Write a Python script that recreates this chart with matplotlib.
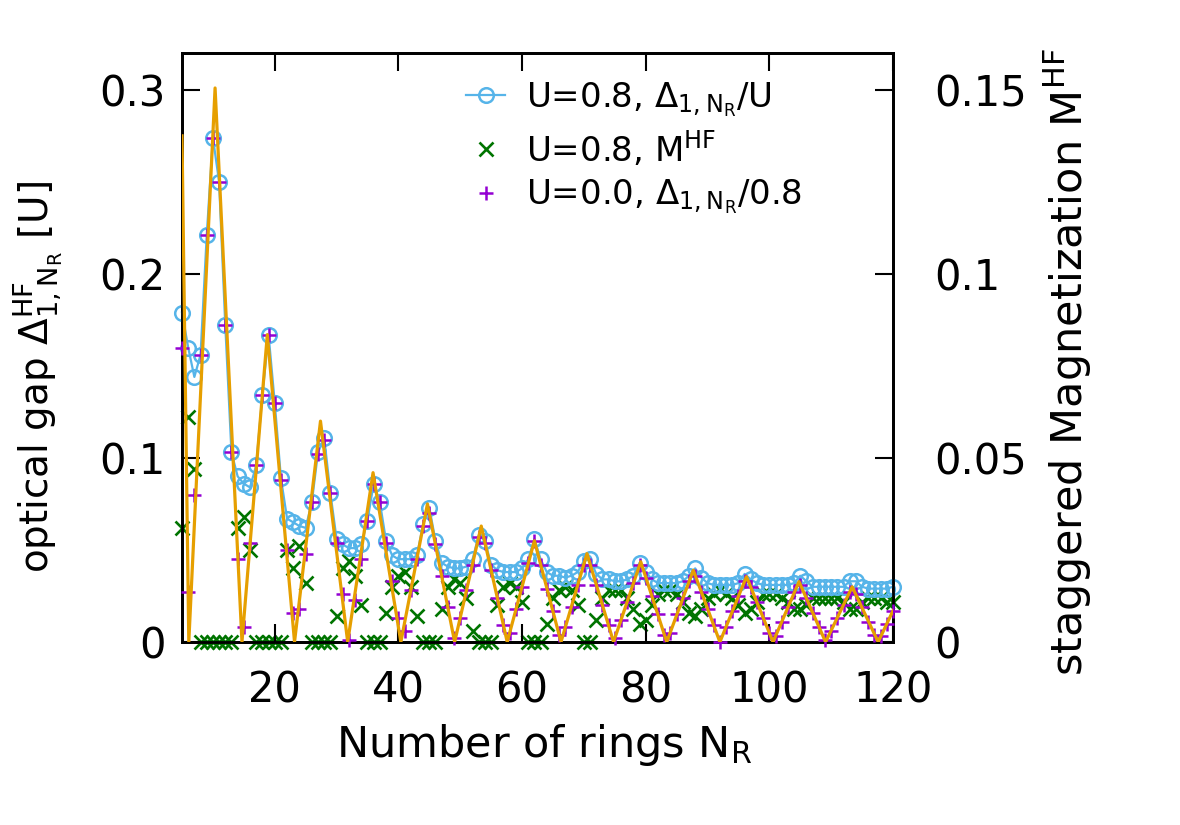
import numpy as np
import matplotlib.pyplot as plt
from matplotlib.lines import Line2D

plt.rcParams['font.family'] = ['DejaVu Sans']
plt.rcParams['mathtext.fontset'] = 'dejavusans'
plt.rcParams['mathtext.default'] = 'regular'

# Number of rings N_R = 5 ... 120
n_rings = np.arange(5, 121)

# U=0.8, optical gap Delta_{1,N_R}/U (left axis)
gap_u08 = [0.179, 0.160, 0.144, 0.156, 0.221, 0.274, 0.250, 0.172, 0.103, 0.090,
           0.086, 0.084, 0.096, 0.134, 0.167, 0.130, 0.089, 0.067, 0.065, 0.063,
           0.062, 0.076, 0.103, 0.111, 0.081, 0.056, 0.053, 0.051, 0.051, 0.053,
           0.066, 0.086, 0.076, 0.055, 0.047, 0.045, 0.045, 0.045, 0.047, 0.064,
           0.073, 0.055, 0.043, 0.041, 0.040, 0.040, 0.041, 0.045, 0.058, 0.055,
           0.042, 0.039, 0.038, 0.038, 0.038, 0.040, 0.045, 0.056, 0.045, 0.038,
           0.036, 0.036, 0.035, 0.036, 0.038, 0.044, 0.045, 0.037, 0.034, 0.034,
           0.033, 0.033, 0.034, 0.036, 0.043, 0.038, 0.034, 0.032, 0.032, 0.032,
           0.032, 0.033, 0.036, 0.040, 0.035, 0.032, 0.031, 0.031, 0.031, 0.031,
           0.032, 0.037, 0.034, 0.032, 0.031, 0.031, 0.031, 0.031, 0.031, 0.032,
           0.036, 0.033, 0.030, 0.030, 0.030, 0.030, 0.030, 0.030, 0.033, 0.033,
           0.030, 0.029, 0.029, 0.029, 0.029, 0.030]

# U=0.8, staggered magnetization M^HF (right axis)
mag_u08 = [0.031, 0.061, 0.047, 0, 0, 0, 0, 0, 0, 0.031,
           0.034, 0.025, 0, 0, 0, 0, 0, 0.025, 0.020, 0.026,
           0.016, 0, 0, 0, 0, 0.007, 0.020, 0.022, 0.018, 0.010,
           0, 0, 0, 0.008, 0.015, 0.018, 0.019, 0.015, 0.007, 0,
           0, 0, 0.009, 0.015, 0.017, 0.016, 0.012, 0.003, 0, 0,
           0, 0.010, 0.015, 0.016, 0.015, 0.011, 0, 0, 0, 0.005,
           0.012, 0.014, 0.015, 0.014, 0.010, 0, 0, 0.006, 0.012, 0.014,
           0.014, 0.014, 0.012, 0.009, 0.005, 0.006, 0.010, 0.013, 0.014, 0.014,
           0.013, 0.011, 0.008, 0.007, 0.009, 0.012, 0.013, 0.014, 0.013, 0.012,
           0.010, 0.008, 0.009, 0.011, 0.013, 0.013, 0.013, 0.012, 0.011, 0.009,
           0.009, 0.010, 0.012, 0.012, 0.012, 0.012, 0.012, 0.011, 0.009, 0.009,
           0.011, 0.012, 0.012, 0.012, 0.011, 0.011]

# U=0.0, Delta_{1,N_R}/0.8 (left axis)
gap_u00 = [0.160, 0.027, 0.080, 0.156, 0.221, 0.274, 0.250, 0.172, 0.103, 0.045,
           0.008, 0.054, 0.096, 0.134, 0.167, 0.130, 0.088, 0.050, 0.016, 0.018,
           0.048, 0.076, 0.102, 0.110, 0.081, 0.054, 0.026, 0.001, 0.023, 0.045,
           0.066, 0.086, 0.076, 0.054, 0.033, 0.013, 0.006, 0.028, 0.045, 0.063,
           0.070, 0.053, 0.036, 0.019, 0.002, 0.013, 0.028, 0.042, 0.057, 0.054,
           0.039, 0.024, 0.009, 0.005, 0.018, 0.030, 0.043, 0.055, 0.042, 0.029,
           0.017, 0.004, 0.008, 0.019, 0.031, 0.042, 0.042, 0.031, 0.020, 0.009,
           0.002, 0.012, 0.022, 0.032, 0.042, 0.035, 0.025, 0.015, 0.004, 0.005,
           0.015, 0.024, 0.033, 0.036, 0.027, 0.018, 0.009, 0.000, 0.008, 0.017,
           0.025, 0.033, 0.030, 0.022, 0.013, 0.005, 0.003, 0.011, 0.019, 0.027,
           0.031, 0.024, 0.016, 0.008, 0.001, 0.006, 0.013, 0.020, 0.027, 0.026,
           0.019, 0.011, 0.004, 0.003, 0.010, 0.017]

# orange guide line (zigzag through the U=0 gap), vertices
guide_n = [5, 6.1, 10.35, 14.7, 18.8, 23.2, 27.4, 31.8, 35.9, 40.4, 44.7, 49.1,
           53.4, 57.6, 62.0, 66.3, 70.5, 74.8, 79.2, 83.4, 87.7, 92.0, 96.3,
           100.6, 104.8, 109.1, 113.4, 117.6, 120]
guide_gap = [0.275, 0, 0.301, 0, 0.167, 0, 0.120, 0, 0.092, 0, 0.075, 0,
             0.063, 0, 0.055, 0, 0.048, 0, 0.0436, 0, 0.039, 0, 0.0355,
             0, 0.0328, 0, 0.030, 0, 0.017]

c_blue = '#56b4e9'
c_green = '#007400'
c_purple = '#9400d3'
c_orange = '#e69f00'

fig = plt.figure(figsize=(11.8, 8.25), dpi=100)
ax = fig.add_axes([182 / 1180, 1 - 642 / 825, 711 / 1180, 589 / 825])
ax2 = ax.twinx()

ax.plot(n_rings, gap_u08, color=c_blue, lw=1.6, marker='o', ms=10.5,
        mfc='none', mew=1.8, clip_on=False, zorder=2)
ax2.plot(n_rings, mag_u08, ls='none', color=c_green, marker='x', ms=10.5,
         mew=1.9, clip_on=False, zorder=3)
ax.plot(n_rings, gap_u00, ls='none', color=c_purple, marker='+', ms=10,
        mew=1.8, clip_on=False, zorder=4)
ax.plot(guide_n, guide_gap, color=c_orange, lw=2.3, zorder=5)

# left-axis artists above the twin axis
ax.set_zorder(ax2.get_zorder() + 1)
ax.patch.set_visible(False)

ax.set_xlim(5, 120)
ax.set_ylim(0, 0.32)
ax2.set_ylim(0, 0.16)

fs = 30
ax.set_xticks([20, 40, 60, 80, 100, 120])
ax.set_xticklabels(['20', '40', '60', '80', '100', '120'], fontsize=fs)
ax.set_yticks([0, 0.1, 0.2, 0.3])
ax.set_yticklabels(['0', '0.1', '0.2', '0.3'], fontsize=fs)
ax2.set_yticks([0, 0.05, 0.1, 0.15])
ax2.set_yticklabels(['0', '0.05', '0.1', '0.15'], fontsize=fs)

ax.tick_params(axis='x', direction='in', length=13, width=1.5, top=True, pad=20)
ax.tick_params(axis='y', direction='in', length=13, width=1.5, right=False, pad=12)
ax2.tick_params(axis='y', direction='in', length=13, width=1.5, pad=30)
for sp in ax.spines.values():
    sp.set_linewidth(2)
for sp in ax2.spines.values():
    sp.set_linewidth(2)

ax.set_xlabel(r'Number of rings $N_R$', fontsize=31)
ax.xaxis.set_label_coords(0.51, -0.135)
ax.set_ylabel(r'optical gap $\Delta^{HF}_{1,N_R}$ [U]', fontsize=28)
ax.yaxis.set_label_coords(-0.165, 0.45)
ax2.set_ylabel(r'staggered Magnetization M$^{HF}$', fontsize=31)
ax2.yaxis.set_label_coords(1.21, 0.475)

handles = [
    Line2D([], [], color=c_blue, lw=1.6, marker='o', ms=10.5, mfc='none', mew=1.8),
    Line2D([], [], ls='none', color=c_green, marker='x', ms=10.5, mew=1.9),
    Line2D([], [], ls='none', color=c_purple, marker='+', ms=10, mew=1.8),
]
labels = [r'U=0.8, $\Delta_{1,N_R}$/U', r'U=0.8, M$^{HF}$',
          r'U=0.0, $\Delta_{1,N_R}$/0.8']
ax.legend(handles, labels, loc='upper left', frameon=False, fontsize=24.5,
          bbox_to_anchor=(466 / 1180, 1 - 80 / 825), bbox_transform=fig.transFigure,
          borderpad=0, borderaxespad=0, handlelength=1.15, handletextpad=0.6,
          labelspacing=0.28)

fig.savefig('out.png', dpi=100)
